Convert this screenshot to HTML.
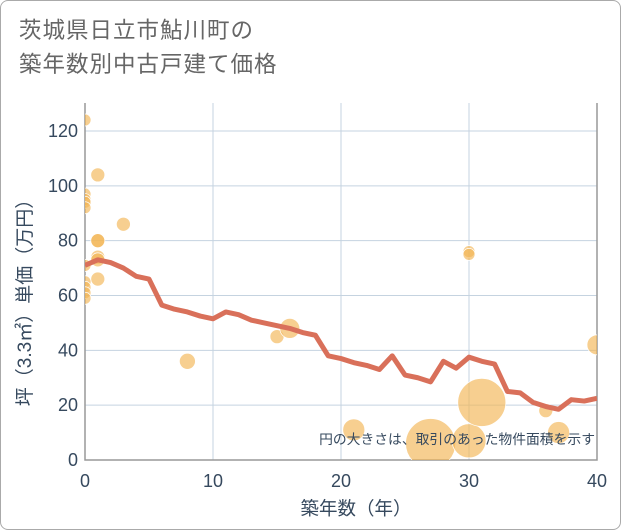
<!DOCTYPE html>
<html><head><meta charset="utf-8"><style>
body{margin:0;background:#fff;}
#c{position:relative;width:619px;height:528px;border:1px solid #aaa;border-radius:8px;overflow:hidden;background:#fff;font-family:"Liberation Sans","Noto Sans CJK JP",sans-serif;}
#t{position:absolute;left:18px;top:13px;font-size:22.5px;line-height:34px;color:#666;letter-spacing:1px;}
</style></head><body>
<div id="c">
<div id="t">茨城県日立市鮎川町の<br>築年数別中古戸建て価格</div>
<svg id="s" width="621" height="530" style="position:absolute;left:-1px;top:-1px"></svg>
</div>
<script>
const lineYears=[0,1,2,3,4,5,6,7,8,9,10,11,12,13,14,15,16,17,18,19,20,21,22,23,24,25,26,27,28,29,30,31,32,33,34,35,36,37,38,39,40];
const linePrices=[71,73,72,70,67,66,56.5,55,54,52.5,51.5,54,53,51,50,49,48,46.5,45.5,38,37,35.5,34.5,33,38,31,30,28.5,36,33.5,37.5,36,35,25,24.5,21,19.5,18.5,22,21.5,22.5];
const ptYears=[0,1,0,0,0,0,3,1,1,1,1,0,1,0,0,0,0,8,15,16,21,27,30,30,30,31,36,37,40];
const ptPrices=[124,104,97,95,94,92,86,80,80,74,73,71,66,65,63,61,59,36,45,48,11,6,7,76,75,21,18,10,42];
const ptSizes=[6,7,6,6,6,6,7,7,7,7,7,6,7,6,6,6,6,8,7,10,11,25,17,6,6,24,7,11,10];
const xTicks=[0,10,20,30,40];
const yTicks=[0,20,40,60,80,100,120];
const L=85,R=597,T=103,B=460;
const X=v=>L+(R-L)*v/40, Y=v=>B-(B-131)*v/120;
const s=document.getElementById('s'),NS='http://www.w3.org/2000/svg';
function mk(tag,a,p){const e=document.createElementNS(NS,tag);for(const k in a)e.setAttribute(k,a[k]);(p||s).appendChild(e);return e;}
const cp=mk('clipPath',{id:'cp'});mk('rect',{x:L,y:T,width:R-L,height:B-T},cp);
xTicks.forEach(v=>{const g=mk('line',{x1:X(v),x2:X(v),y1:T,y2:B,stroke:'#c5d3e0','stroke-width':1});

const t=mk('text',{x:X(v),y:487,'text-anchor':'middle','font-size':18,fill:'#36495e'});t.textContent=v;
});
yTicks.forEach(v=>{const g=mk('line',{x1:L,x2:R,y1:Y(v),y2:Y(v),stroke:'#c5d3e0','stroke-width':1});

const t=mk('text',{x:78,y:Y(v)+6,'text-anchor':'end','font-size':18,fill:'#36495e'});t.textContent=v;
});
const ax=mk('polyline',{points:`${L},${T} ${L},${B} ${R},${B} ${R},${T}`,fill:'none',stroke:'#999','stroke-width':1.5});

const gp=mk('g',{'clip-path':'url(#cp)'});
ptYears.forEach((yr,i)=>{const c=mk('circle',{cx:X(yr),cy:Y(ptPrices[i]),r:ptSizes[i],fill:'#f2b655','fill-opacity':0.65,stroke:'#fff','stroke-width':0.7},gp);
});
const pl=mk('polyline',{points:lineYears.map((yr,i)=>X(yr)+','+Y(linePrices[i])).join(' '),fill:'none',stroke:'#d9705a','stroke-width':5,'stroke-linejoin':'round'},gp);

const n=mk('text',{x:595,y:444,'text-anchor':'end','font-size':13.8,fill:'#36495e'});n.textContent='円の大きさは、取引のあった物件面積を示す';

const xt=mk('text',{x:356,y:515,'text-anchor':'middle','font-size':18.5,fill:'#36495e'});xt.textContent='築年数（年）';

const yt=mk('text',{x:0,y:0,'text-anchor':'middle','font-size':19,fill:'#36495e',transform:'translate(31,298) rotate(-90)'});yt.textContent='坪（3.3㎡）単価（万円）';

</script>
</body></html>
